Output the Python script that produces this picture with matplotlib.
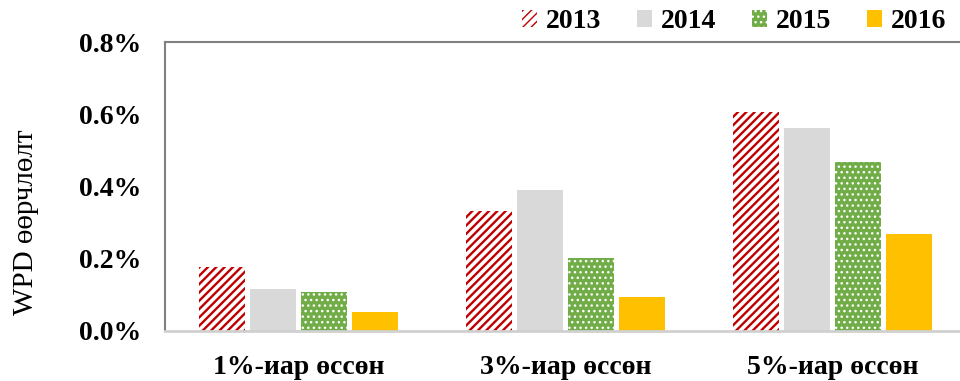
import matplotlib
matplotlib.use("Agg")
import matplotlib.pyplot as plt
import numpy as np

# Data: WPD change (%) by growth scenario and year
categories = ["1%-иар өссөн", "3%-иар өссөн", "5%-иар өссөн"]
years = ["2013", "2014", "2015", "2016"]
v2013 = [0.177, 0.332, 0.607]
v2014 = [0.116, 0.390, 0.562]
v2015 = [0.108, 0.202, 0.468]
v2016 = [0.053, 0.094, 0.269]
yticks = [0.0, 0.2, 0.4, 0.6, 0.8]

series = [v2013, v2014, v2015, v2016]
styles = [
    dict(facecolor="white", edgecolor="#C00000", hatch="////", hlw=1.7),
    dict(facecolor="#D9D9D9", edgecolor="#D9D9D9", hatch=None, hlw=1.0),
    dict(facecolor="#70AD47", edgecolor="white", hatch="...", hlw=1.0),
    dict(facecolor="#FFC000", edgecolor="#FFC000", hatch=None, hlw=1.0),
]

serif = ["Liberation Serif", "DejaVu Serif"]
plt.rcParams["font.family"] = serif

fig = plt.figure(figsize=(9.6, 3.81), dpi=100)
ax = fig.add_axes([165 / 960, 1 - 331 / 381, 801 / 960, 289 / 381])

x = np.arange(len(categories))
width = 0.172
step = 0.19
handles = []
for i, (vals, st) in enumerate(zip(series, styles)):
    with plt.rc_context({"hatch.linewidth": st["hlw"]}):
        bars = ax.bar(x + (i - 1.5) * step, vals, width,
                      facecolor=st["facecolor"], edgecolor=st["edgecolor"],
                      hatch=st["hatch"], linewidth=0, label=years[i])
    handles.append(bars)

ax.set_xlim(-0.5, 2.5)
ax.set_ylim(0, 0.8)
ax.set_yticks(yticks)
ax.set_yticklabels([f"{t:.1f}%" for t in yticks], fontsize=20, fontweight="bold")
ax.set_xticks(x)
ax.set_xticklabels(categories, fontsize=20, fontweight="bold")
ax.tick_params(axis="y", length=0, pad=17)
ax.tick_params(axis="x", length=0, pad=17)

for s in ("left", "top"):
    ax.spines[s].set_color("#808080")
    ax.spines[s].set_linewidth(1.5)
ax.spines["bottom"].set_color("#D0D0D0")
ax.spines["bottom"].set_linewidth(2.0)
ax.spines["right"].set_visible(False)

fig.text(26 / 960, 1 - 222 / 381, "WPD өөрчлөлт", rotation=90,
         ha="center", va="center", fontsize=21)

fig.legend(handles=handles, labels=years, loc="center",
           bbox_to_anchor=(734 / 960, 1 - 22 / 381), ncol=4, frameon=False,
           prop=dict(family=serif, size=20, weight="bold"),
           handlelength=0.55, handleheight=0.55, handletextpad=0.3,
           columnspacing=1.3, borderpad=0)

fig.savefig("out.png", dpi=100)
